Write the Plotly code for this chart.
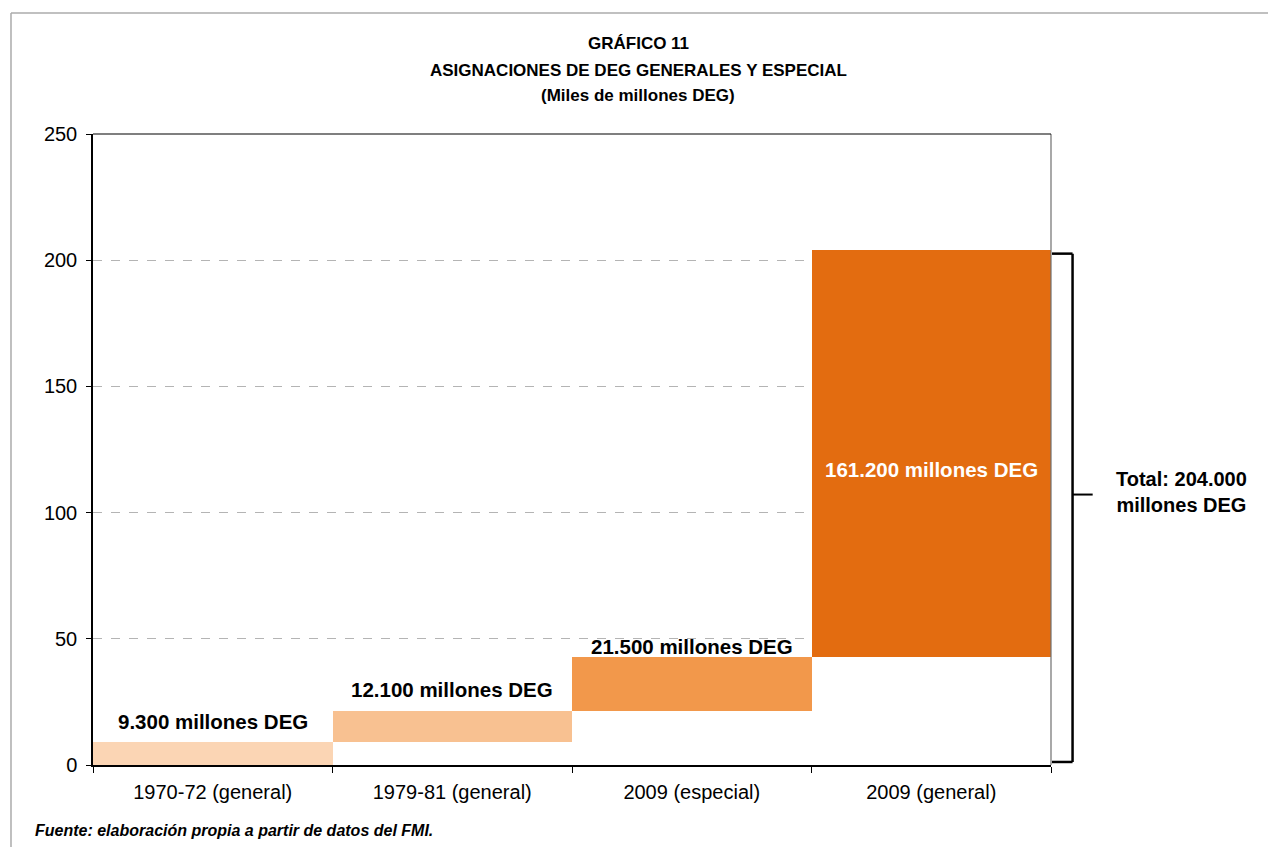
import plotly.graph_objects as go

categories = ["1970-72 (general)", "1979-81 (general)", "2009 (especial)", "2009 (general)"]
values = [9.3, 12.1, 21.5, 161.2]
labels = ["9.300 millones DEG", "12.100 millones DEG", "21.500 millones DEG", "161.200 millones DEG"]
colors = ["#FBD5B4", "#F8C191", "#F2984B", "#E36C10"]
y_ticks = [0, 50, 100, 150, 200, 250]

bases = []
acc = 0
for v in values:
    bases.append(acc)
    acc += v
total = acc

fig = go.Figure()
fig.add_trace(go.Bar(x=categories, y=values, base=bases, marker=dict(color=colors, line=dict(width=0)),
                     showlegend=False, hoverinfo="skip"))

FONT = "Liberation Sans, Arial, sans-serif"

# labels above first three bars
shifts = [20, 21, 10]
for i in range(3):
    fig.add_annotation(x=categories[i], y=bases[i] + values[i], text="<b>" + labels[i] + "</b>",
                       showarrow=False, yanchor="middle", yshift=shifts[i],
                       font=dict(family=FONT, size=20.5, color="black"))
# label inside last bar
fig.add_annotation(x=categories[3], y=bases[3] + values[3] * 0.46, text="<b>" + labels[3] + "</b>",
                   showarrow=False, font=dict(family=FONT, size=20.5, color="white"))

# bracket for total
xb0, xb1, xb2 = 1.001, 1.0225, 1.0435
shapes = [
    dict(type="line", xref="paper", yref="y", x0=xb0, x1=xb1, y0=total - 1.5, y1=total - 1.5, line=dict(color="black", width=2.5)),
    dict(type="line", xref="paper", yref="y", x0=xb1, x1=xb1, y0=total - 1.5, y1=1.2, line=dict(color="black", width=2.5)),
    dict(type="line", xref="paper", yref="y", x0=xb0, x1=xb1, y0=1.2, y1=1.2, line=dict(color="black", width=2.5)),
    dict(type="line", xref="paper", yref="y", x0=xb1, x1=xb2, y0=total * 0.525, y1=total * 0.525, line=dict(color="black", width=2)),
    # right border (gray)
    dict(type="line", xref="paper", yref="paper", x0=1, x1=1, y0=0, y1=1, line=dict(color="#6f6f6f", width=1.2)),
    # outer gray frame
    dict(type="line", xref="paper", yref="paper", x0=-0.0856, x1=1.3, y0=1.1918, y1=1.1918, line=dict(color="#ababab", width=1.5)),
    dict(type="line", xref="paper", yref="paper", x0=-0.0856, x1=-0.0856, y0=1.1918, y1=-0.2, line=dict(color="#ababab", width=1.5)),
    # top border
    dict(type="line", xref="paper", yref="paper", x0=0, x1=1, y0=1, y1=1, line=dict(color="black", width=1.2)),
]

fig.add_annotation(xref="paper", yref="y", x=1.1365, y=total * 0.53, text="<b>Total: 204.000<br>millones DEG</b>",
                   showarrow=False, xanchor="center", yanchor="middle", align="center",
                   font=dict(family=FONT, size=20, color="black"))

# titles
title_lines = ["GRÁFICO 11", "ASIGNACIONES DE DEG GENERALES Y ESPECIAL", "(Miles de millones DEG)"]
title_y = [43, 70, 96]
for t, py in zip(title_lines, title_y):
    fig.add_annotation(xref="paper", yref="paper", x=(638 - 93) / 958, y=(765 - py) / 631, text="<b>" + t + "</b>",
                       showarrow=False, xanchor="center", yanchor="middle",
                       font=dict(family=FONT, size=17, color="black"))

fig.add_annotation(xref="paper", yref="paper", x=(33 - 93) / 958, y=(765 - 830) / 631,
                   text="<b><i>Fuente: elaboración propia a partir de datos del FMI.</i></b>",
                   showarrow=False, xanchor="left", yanchor="middle",
                   font=dict(family=FONT, size=16, color="black"))

fig.update_layout(
    width=1268, height=847,
    margin=dict(l=93, r=217, t=134, b=82),
    paper_bgcolor="white", plot_bgcolor="white",
    bargap=0,
    shapes=shapes,
    xaxis=dict(type="category", tickson="boundaries", ticks="outside", ticklen=6, tickcolor="black",
               showline=True, linecolor="black", linewidth=1.5, mirror=False, showgrid=False,
               ticklabelstandoff=8,
               tickfont=dict(family=FONT, size=20, color="black"), range=[-0.5, 3.5]),
    yaxis=dict(range=[0, 250], tickvals=y_ticks, ticks="outside", ticklen=5, tickcolor="black",
               showline=True, linecolor="black", linewidth=1.5, showgrid=True, gridcolor="#b4b4b4",
               griddash="dash", gridwidth=1, zeroline=False, ticklabelstandoff=5,
               tickfont=dict(family=FONT, size=20, color="black")),
)

fig.write_html("out.html")
